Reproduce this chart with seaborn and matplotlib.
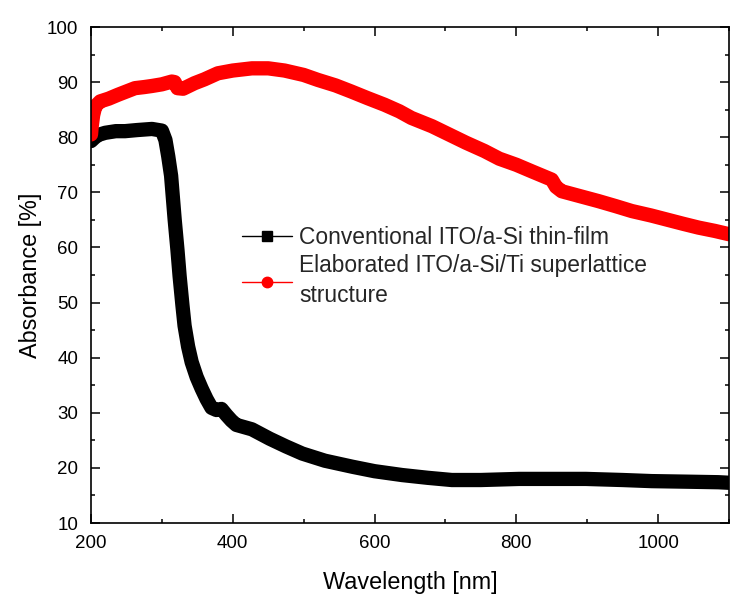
import numpy as np
import pandas as pd
import seaborn as sns
import matplotlib
matplotlib.use("Agg")
import matplotlib.pyplot as plt
from matplotlib.lines import Line2D
from matplotlib.ticker import MultipleLocator

# ---- data ----
wl_conv = [200, 205, 210, 220, 235, 248, 265, 286, 300, 305, 309, 313, 318, 322, 325,
           329, 332, 337, 342, 349, 356, 363, 370, 377, 384, 391, 398, 405, 427, 452,
           475, 498, 530, 569, 600, 639, 675, 709, 750, 804, 850, 898, 950, 991, 1040,
           1085, 1100]
abs_conv = [79.3, 79.9, 80.4, 80.8, 81.1, 81.1, 81.3, 81.5, 81.2, 79.5, 76.5, 73.0,
            65.1, 59.5, 54.8, 49.5, 45.8, 42.0, 39.2, 36.5, 34.4, 32.5, 30.9, 30.5,
            30.7, 29.6, 28.6, 27.8, 27.0, 25.3, 23.9, 22.6, 21.3, 20.2, 19.4, 18.7,
            18.2, 17.8, 17.8, 18.0, 18.0, 18.0, 17.8, 17.6, 17.5, 17.4, 17.3]

wl_super = [200, 201, 203, 206, 213, 225, 238, 250, 262, 275, 286, 300, 314, 318, 322,
            330, 346, 360, 379, 400, 427, 450, 473, 500, 520, 545, 567, 590, 614, 635,
            652, 681, 705, 729, 755, 776, 800, 822, 850, 856, 864, 890, 916, 940, 963,
            990, 1011, 1035, 1057, 1080, 1100]
abs_super = [80.5, 82.0, 84.0, 85.6, 86.5, 87.0, 87.7, 88.3, 88.9, 89.1, 89.3, 89.6,
             90.1, 90.0, 88.9, 88.8, 89.8, 90.5, 91.6, 92.1, 92.5, 92.5, 92.1, 91.3,
             90.4, 89.4, 88.3, 87.1, 85.9, 84.7, 83.5, 82.0, 80.5, 79.0, 77.5, 76.1,
             75.0, 73.8, 72.3, 71.0, 70.2, 69.3, 68.4, 67.5, 66.6, 65.8, 65.1, 64.3,
             63.6, 63.0, 62.4]

label_conv = "Conventional ITO/a-Si thin-film"
label_super = "Elaborated ITO/a-Si/Ti superlattice\nstructure"
x_ticks = [200, 400, 600, 800, 1000]
y_ticks = [10, 20, 30, 40, 50, 60, 70, 80, 90, 100]

df = pd.concat([
    pd.DataFrame({"Wavelength": wl_conv, "Absorbance": abs_conv, "Sample": label_conv}),
    pd.DataFrame({"Wavelength": wl_super, "Absorbance": abs_super, "Sample": label_super}),
], ignore_index=True)

sns.set_theme(style="ticks")
plt.rcParams["font.family"] = ["Liberation Sans", "DejaVu Sans"]

fig = plt.figure(figsize=(7.33, 5.97), dpi=100)
ax = fig.add_axes([91 / 733, 1 - 523 / 597, 638 / 733, 496 / 597])

sns.lineplot(data=df, x="Wavelength", y="Absorbance", hue="Sample",
             palette={label_conv: "black", label_super: "#ff0000"},
             linewidth=10.3, sort=False, legend=False, ax=ax,
             solid_joinstyle="round", solid_capstyle="round")

ax.set_xlim(200, 1100)
ax.set_ylim(10, 100)
ax.set_xticks(x_ticks)
ax.set_yticks(y_ticks)
ax.xaxis.set_minor_locator(MultipleLocator(100))
ax.yaxis.set_minor_locator(MultipleLocator(5))
ax.tick_params(which="both", direction="in", top=True, right=True, width=1.1,
               color="black")
ax.tick_params(which="major", length=6.5, labelsize=13.5, labelcolor="black")
ax.tick_params(axis="x", which="major", pad=9)
ax.tick_params(axis="y", which="major", pad=9)
ax.tick_params(which="minor", length=3)
for s in ax.spines.values():
    s.set_linewidth(1.2)
    s.set_color("black")

ax.set_xlabel("Wavelength [nm]", fontsize=16.8, labelpad=13, color="black")
ax.set_ylabel("Absorbance [%]", fontsize=16.8, labelpad=4, color="black")

handles = [
    Line2D([], [], color="black", lw=1.0, marker="s", markersize=6.5),
    Line2D([], [], color="#ff0000", lw=1.0, marker="o", markersize=7.5),
]
leg = ax.legend(handles, [label_conv, label_super], loc="upper left",
                bbox_to_anchor=(0.236, 0.598), frameon=False, fontsize=16.4,
                handlelength=2.23, handletextpad=0.3, labelspacing=0.2,
                borderaxespad=0, borderpad=0)
leg.get_texts()[1].set_linespacing(1.4)

fig.savefig("out.png", dpi=100)
